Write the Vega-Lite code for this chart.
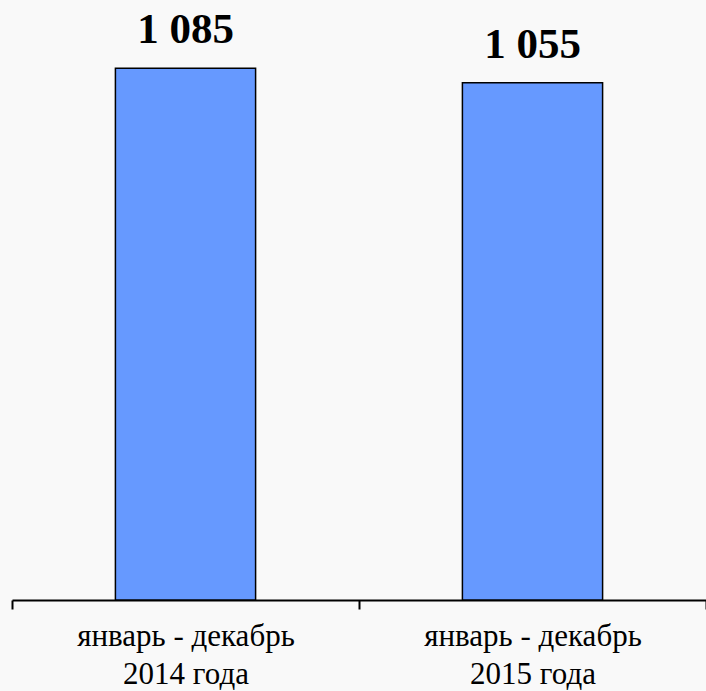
{
  "$schema": "https://vega.github.io/schema/vega-lite/v6.json",
  "width": 694,
  "height": 600,
  "autosize": "none",
  "padding": {"left": 12, "top": 0, "right": 0, "bottom": 91},
  "background": "#f9f9f9",
  "config": {"view": {"stroke": null}},
  "data": {
    "values": [
      {"period": "январь - декабрь|2014 года", "value": 1085, "label": "1 085"},
      {"period": "январь - декабрь|2015 года", "value": 1055, "label": "1 055"}
    ]
  },
  "encoding": {
    "x": {
      "field": "period",
      "type": "nominal",
      "sort": null,
      "scale": {"paddingInner": 0, "paddingOuter": 0},
      "axis": {
        "title": null,
        "labelAngle": 0,
        "labelExpr": "split(datum.label, '|')",
        "labelFont": "Liberation Serif",
        "labelFontSize": 31,
        "labelColor": "#000000",
        "labelLineHeight": 38,
        "labelPadding": 12,
        "labelBaseline": "top",
        "labelLimit": 0,
        "tickBand": "extent",
        "tickSize": 9,
        "tickWidth": 2,
        "tickColor": "#000000",
        "domainColor": "#000000",
        "domainWidth": 2
      }
    },
    "y": {
      "field": "value",
      "type": "quantitative",
      "scale": {"domain": [0, 1224], "nice": false},
      "axis": null
    }
  },
  "layer": [
    {
      "mark": {"type": "bar", "width": {"band": 0.404}, "color": "#6699ff", "stroke": "#000000", "strokeWidth": 1.5}
    },
    {
      "mark": {"type": "text", "font": "Liberation Serif", "fontSize": 43, "fontWeight": "bold", "baseline": "alphabetic", "dy": -25, "color": "#000000"},
      "encoding": {"text": {"field": "label"}}
    }
  ]
}
